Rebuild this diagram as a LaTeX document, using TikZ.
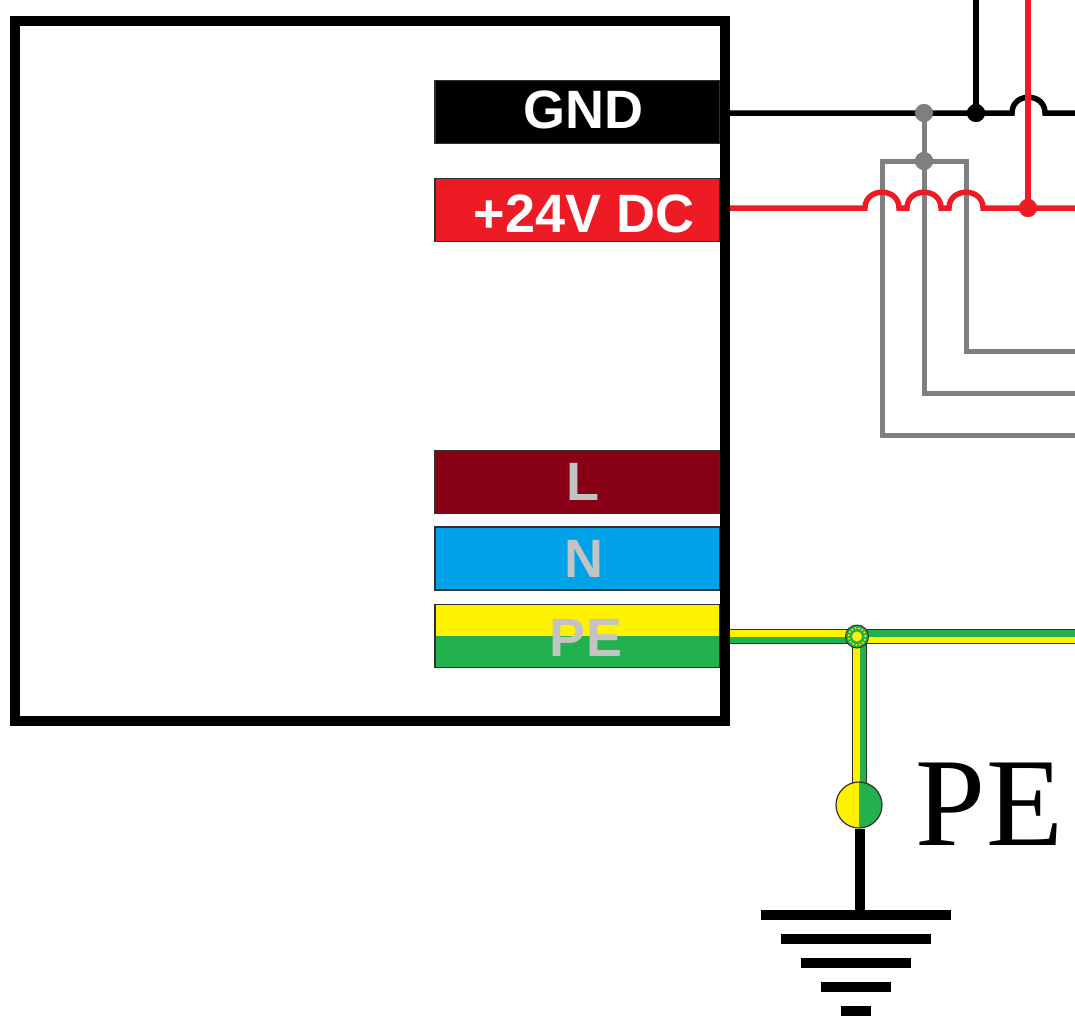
\documentclass[tikz,border=0pt]{standalone}
\usepackage{fontspec}
\setmainfont{Liberation Sans}
\newfontfamily\serifpe{Liberation Serif}
\usepackage{tikz}
\usetikzlibrary{calc,positioning}
\definecolor{wirered}{HTML}{ED1C24}
\definecolor{wiregrey}{HTML}{7F7F7F}
\definecolor{lbrown}{HTML}{880015}
\definecolor{nblue}{HTML}{00A2E8}
\definecolor{peyellow}{HTML}{FFF200}
\definecolor{pegreen}{HTML}{22B14C}
\definecolor{lblgrey}{HTML}{C3C3C3}
\definecolor{edgedark}{HTML}{303030}

\begin{document}
\begin{tikzpicture}[x=1pt,y=-1pt,
    term/.style={draw=edgedark,line width=1.2pt,minimum width=285pt,minimum height=63pt,inner sep=0pt},
    halfterm/.style={minimum width=285pt,minimum height=32pt,inner sep=0pt},
    termtxt/.style={anchor=base,inner sep=0pt,font=\fontsize{54}{60}\selectfont\bfseries},
    dot/.style={circle,minimum size=18pt,inner sep=0pt},
    blackw/.style={line width=5.5pt,black},
    redw/.style={line width=5.5pt,wirered},
    greyw/.style={line width=5pt,wiregrey},
    bar/.style={line width=10pt,black}]
  \useasboundingbox (0,0) rectangle (1075,1015);

  \node[term,fill=black] (gnd) at (577.5,112) {};
  \node[term,fill=wirered] (dc) at (577.5,210) {};
  \node[term,fill=lbrown] (lterm) at (577.5,482) {};
  \node[term,fill=nblue] (nterm) at (577.5,558.5) {};
  \node[halfterm,fill=peyellow] (peup) at (577.5,620) {};
  \node[halfterm,fill=pegreen] (pedown) at (577.5,652) {};
  \node[term] (peterm) at (577.5,636) {};
  \node[draw,line width=10pt,minimum width=710pt,minimum height=700pt,inner sep=0pt] (psu) at (370,371) {};

  \node[termtxt,white] (gndtxt) at (583,128) {GND};
  \node[termtxt,white] (dctxt) at (584,232) {+24V DC};
  \node[termtxt,lblgrey] (ltxt) at (582.5,500) {L};
  \node[termtxt,lblgrey] (ntxt) at (583.5,577) {N};
  \node[termtxt,lblgrey] (petxt) at (586,656) {PE};

  \coordinate (gndl) at (730,113);
  \coordinate (gndr) at (1075,113);
  \coordinate (dcl) at (730,208);
  \coordinate (dcr) at (1075,208);
  \coordinate (gndup) at (976,0);
  \coordinate (dcup) at (1028,0);
  \coordinate (gout) at (1075,351);
  \coordinate (mout) at (1075,393);
  \coordinate (hout) at (1075,435);

  \node[dot,fill=wiregrey] (gtop) at (924,113) {};
  \node[dot,fill=wiregrey] (gjoin) at (924,161) {};
  \node[dot,fill=black] (bdot) at (976,113) {};
  \node[dot,fill=wirered] (rdot) at (1028,208) {};

  \draw[greyw] (hout) -- (882,435) -- (882,161) -- (966,161) -- (966,351) -- (gout);
  \draw[greyw] (gtop.center) -- (924,393) -- (mout);

  \draw[blackw] (gndl) -- (gtop.center) -- (bdot.center) -- (1012,113) .. controls (1012,92) and (1045,92) .. (1045,113) -- (gndr);
  \draw[line width=6pt,black] (gndup) -- (bdot.center);
  \draw[line width=6pt,wirered] (dcup) -- (rdot.center);
  \draw[redw] (dcl) -- (865,208) .. controls (865,187) and (899,187) .. (899,208) -- (907,208)
     .. controls (907,187) and (941,187) .. (941,208) -- (949,208)
     .. controls (949,187) and (983,187) .. (983,208) -- (rdot.center) -- (dcr);
  \node[dot,fill=wiregrey] at (gtop) {};
  \node[dot,fill=wiregrey] at (gjoin) {};
  \node[dot,fill=black] at (bdot) {};
  \node[dot,fill=wirered] at (rdot) {};

  \coordinate (pel) at (730,636.5);
  \coordinate (per) at (1075,636.5);
  \coordinate (pej) at (859.5,636.5);
  \coordinate (pes) at (859.5,785);
  \draw[line width=15pt,edgedark] (pel) -- (pej) -- (per);
  \draw[line width=15pt,edgedark] (pej) -- (pes);
  \draw[line width=6.8pt,peyellow] ($(pel)+(0,-3.4)$) -- ($(pej)+(0,-3.4)$);
  \draw[line width=6.8pt,pegreen] ($(pel)+(0,3.4)$) -- ($(pej)+(0,3.4)$);
  \draw[line width=6.8pt,pegreen] ($(pej)+(0,-3.4)$) -- ($(per)+(0,-3.4)$);
  \draw[line width=6.8pt,peyellow] ($(pej)+(0,3.4)$) -- ($(per)+(0,3.4)$);
  \draw[line width=6.8pt,peyellow] ($(pej)+(-3.4,0)$) -- ($(pes)+(-3.4,0)$);
  \draw[line width=6.8pt,pegreen] ($(pej)+(3.4,0)$) -- ($(pes)+(3.4,0)$);

  \node[circle,draw=edgedark,line width=1pt,fill=pegreen,minimum size=23pt,inner sep=0pt] (pejdot) at (857,636.5) {};
  \node[circle,draw=peyellow,line width=1.5pt,dotted,minimum size=17pt,inner sep=0pt] (pejring) at (pejdot) {};
  \node[circle,fill=peyellow,minimum size=10pt,inner sep=0pt] (pejcore) at (pejdot) {};

  \coordinate (stemb) at (860,915);
  \node[circle,draw=edgedark,line width=1.2pt,fill=peyellow,minimum size=46pt,inner sep=0pt,
     path picture={\fill[pegreen] (path picture bounding box.north) rectangle (path picture bounding box.south east);}] (pedot) at (859,805) {};
  \draw[line width=10pt,black] (pedot.south -| stemb) -- (stemb);

  \coordinate (bar1l) at (761,915);
  \coordinate (bar1r) at (951,915);
  \coordinate (bar2l) at (781,939);
  \coordinate (bar2r) at (931,939);
  \coordinate (bar3l) at (801,963);
  \coordinate (bar3r) at (911,963);
  \coordinate (bar4l) at (821,987);
  \coordinate (bar4r) at (891,987);
  \coordinate (bar5l) at (841,1011);
  \coordinate (bar5r) at (871,1011);
  \draw[bar] (bar1l) -- (bar1r);
  \draw[bar] (bar2l) -- (bar2r);
  \draw[bar] (bar3l) -- (bar3r);
  \draw[bar] (bar4l) -- (bar4r);
  \draw[bar] (bar5l) -- (bar5r);

  \node[anchor=base,inner sep=0pt,font=\fontsize{126}{130}\selectfont\serifpe] (pelabel) at (989.5,845) {PE};
\end{tikzpicture}
\end{document}
